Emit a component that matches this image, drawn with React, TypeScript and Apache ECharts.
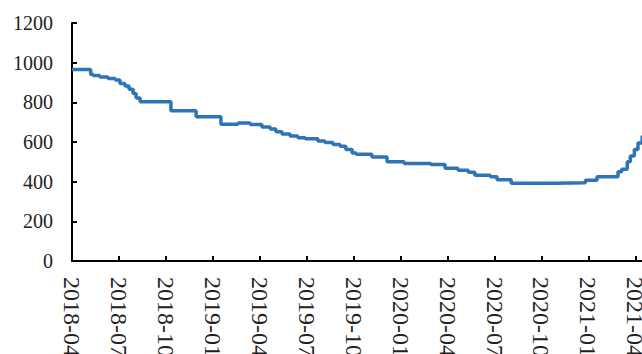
import React, { useEffect, useRef } from "react";
import * as echarts from "echarts";

// Dates at which the level changes, and the level from that date on
const dates = [
  "2018-04-01", "2018-05-07", "2018-05-12", "2018-05-25", "2018-06-10", "2018-06-24",
  "2018-07-03", "2018-07-13", "2018-07-21", "2018-07-29", "2018-08-04", "2018-08-12",
  "2018-10-11", "2018-11-29", "2019-01-17", "2019-02-18", "2019-03-13", "2019-04-05",
  "2019-04-21", "2019-05-02", "2019-05-14", "2019-05-30", "2019-06-14", "2019-06-28",
  "2019-07-23", "2019-08-06", "2019-08-22", "2019-09-05", "2019-09-16", "2019-09-28",
  "2019-10-06", "2019-11-06", "2019-12-05", "2020-01-08", "2020-02-28", "2020-03-27",
  "2020-04-21", "2020-05-11", "2020-05-24", "2020-06-23", "2020-07-06", "2020-08-03",
  "2020-10-28", "2020-12-26", "2021-01-18", "2021-02-26", "2021-03-05", "2021-03-16",
  "2021-03-22", "2021-03-30", "2021-04-06", "2021-04-14", "2021-04-22",
];
const values = [
  965, 940, 935, 928, 920, 912,
  895, 882, 866, 845, 822, 803,
  758, 727, 690, 696, 688, 676,
  665, 652, 640, 630, 622, 617,
  605, 598, 588, 578, 562, 545,
  538, 525, 500, 492, 486, 468,
  457, 448, 432, 425, 410, 392,
  395, 407, 425, 450, 462, 500,
  530, 562, 595, 628, 660,
];

const yTicks = { min: 0, max: 1200, interval: 200 };
const xStart = { year: 2018, month: 4 };

// Months elapsed since the first tick (fractional within a month)
function toMonthIndex(d: string): number {
  const [y, m, day] = d.split("-").map(Number);
  const dim = new Date(y, m, 0).getDate();
  return (y - xStart.year) * 12 + (m - xStart.month) + (day - 1) / dim;
}

function monthLabel(idx: number): string {
  if (Math.abs(idx - Math.round(idx)) > 1e-6 || Math.round(idx) % 3 !== 0) return "";
  const total = xStart.month - 1 + Math.round(idx);
  const y = xStart.year + Math.floor(total / 12);
  const m = (total % 12) + 1;
  return `${y}-${m < 10 ? "0" + m : m}`;
}

const FONT = "'Liberation Serif', 'Times New Roman', serif";

export default function App() {
  const ref = useRef<HTMLDivElement>(null);

  useEffect(() => {
    document.body.style.margin = "0";
    document.body.style.overflow = "hidden";
    if (!ref.current) return;
    const chart = echarts.init(ref.current, undefined, { renderer: "svg" });
    const data = dates.map((d, i) => [toMonthIndex(d), values[i]]);
    chart.setOption({
      animation: false,
      grid: {
        left: 72,
        top: 23,
        bottom: 93,
        right: -9,
        containLabel: false,
        outerBoundsMode: "none",
      },
      xAxis: {
        type: "value",
        min: 0,
        max: 37,
        interval: 3,
        axisLine: { show: true, onZero: false, lineStyle: { color: "#000", width: 2 } },
        axisTick: { show: true, inside: true, length: 5, lineStyle: { color: "#000", width: 2 } },
        splitLine: { show: false },
        axisLabel: {
          rotate: -90,
          margin: 16,
          color: "#222",
          fontFamily: FONT,
          fontSize: 24,
          showMaxLabel: false,
          formatter: (v: number) => monthLabel(v),
        },
      },
      yAxis: {
        type: "value",
        min: yTicks.min,
        max: yTicks.max,
        interval: yTicks.interval,
        axisLine: { show: true, lineStyle: { color: "#000", width: 2 } },
        axisTick: { show: true, inside: true, length: 5, lineStyle: { color: "#000", width: 2 } },
        splitLine: { show: false },
        axisLabel: {
          margin: 19,
          color: "#222",
          fontFamily: FONT,
          fontSize: 20,
          formatter: (v: number) => String(v),
        },
      },
      series: [
        {
          type: "line",
          data,
          step: "end",
          showSymbol: false,
          symbol: "none",
          lineStyle: { color: "#2E75B6", width: 3.5 },
        },
      ],
    });
    return () => chart.dispose();
  }, []);

  return (
    <div
      ref={ref}
      style={{
        position: "absolute",
        left: 0,
        top: 0,
        width: 642,
        height: 354,
        overflow: "hidden",
        background: "#fff",
      }}
    />
  );
}
